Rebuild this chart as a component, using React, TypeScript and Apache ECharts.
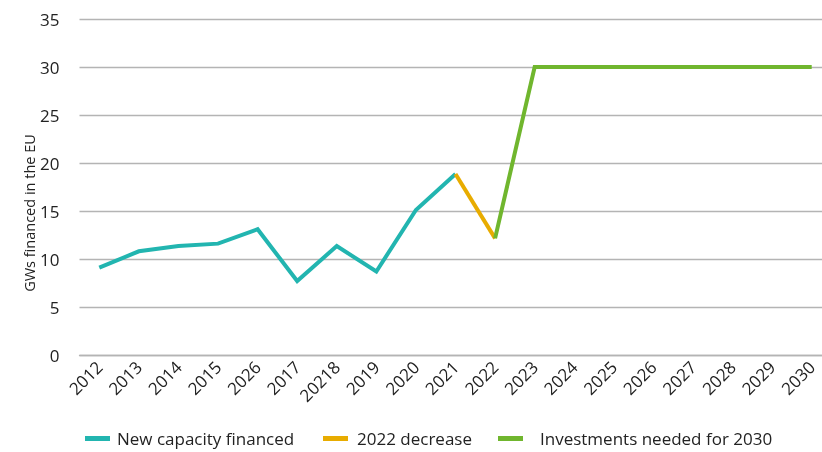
import React, { useEffect, useRef } from "react";
import * as echarts from "echarts";

const categories = ["2012", "2013", "2014", "2015", "2026", "2017", "20218", "2019", "2020", "2021", "2022", "2023", "2024", "2025", "2026", "2027", "2028", "2029", "2030"];
const newCapacity = [9.1, 10.8, 11.35, 11.6, 13.1, 7.7, 11.35, 8.7, 15.1, 18.85, null, null, null, null, null, null, null, null, null];
const decrease2022 = [null, null, null, null, null, null, null, null, null, 18.85, 12.15, null, null, null, null, null, null, null, null];
const investments = [null, null, null, null, null, null, null, null, null, null, 12.15, 30, 30, 30, 30, 30, 30, 30, 30];
const yTicks = [0, 5, 10, 15, 20, 25, 30, 35];
const seriesNames = ["New capacity financed", "2022 decrease", "Investments needed for 2030"];

const FONT = "'Open Sans', Lato, sans-serif";

export default function App() {
  const ref = useRef<HTMLDivElement>(null);
  useEffect(() => {
    const chart = echarts.init(ref.current!, null, { renderer: "svg" });
    const mk = (name: string, data: (number | null)[], color: string) => ({
      name,
      type: "line",
      data,
      symbol: "none",
      showSymbol: false,
      connectNulls: false,
      lineStyle: { color, width: 4, cap: "butt", join: "miter" },
      itemStyle: { color },
    });
    const leg = (name: string, left: number, padLeft: number) => ({
      bottom: 0,
      left,
      itemWidth: 25,
      itemHeight: 5,
      icon: "rect",
      textStyle: { fontSize: 17, color: "#222", fontFamily: FONT, padding: [0, 0, 0, padLeft] },
      data: [name],
    });
    chart.setOption({
      animation: false,
      textStyle: { fontFamily: FONT },
      grid: { left: 79.5, width: 752, top: 19, bottom: 97, containLabel: false, outerBoundsMode: "none" },
      xAxis: {
        type: "category",
        data: categories,
        boundaryGap: true,
        axisLine: { show: true, lineStyle: { color: "#b4b4b4", width: 1.3 } },
        axisTick: { show: false },
        axisLabel: {
          rotate: 45,
          interval: 0,
          margin: 9,
          fontSize: 17,
          color: "#222",
          fontFamily: FONT,
        },
      },
      yAxis: {
        type: "value",
        min: yTicks[0],
        max: yTicks[yTicks.length - 1],
        interval: 5,
        axisLine: { show: false },
        axisTick: { show: false },
        splitLine: { lineStyle: { color: "#b4b4b4", width: 1.3 } },
        axisLabel: { fontSize: 17, color: "#222", margin: 20, fontFamily: FONT },
      },
      legend: [
        leg(seriesNames[0], 80, 2),
        leg(seriesNames[1], 318, 4),
        leg(seriesNames[2], 493, 12),
      ],
      graphic: [
        {
          type: "text",
          x: 29,
          y: 213,
          rotation: Math.PI / 2,
          style: {
            text: "GWs financed in the EU",
            fontSize: 14.5,
            fill: "#222",
            fontFamily: FONT,
            align: "center",
            verticalAlign: "middle",
          },
        },
      ],
      series: [
        mk(seriesNames[0], newCapacity, "#22b5b0"),
        mk(seriesNames[1], decrease2022, "#e8ac00"),
        mk(seriesNames[2], investments, "#70b62e"),
      ],
    });
    return () => chart.dispose();
  }, []);
  return <div ref={ref} style={{ position: "fixed", left: 0, top: 0, width: 822, height: 452 }} />;
}
